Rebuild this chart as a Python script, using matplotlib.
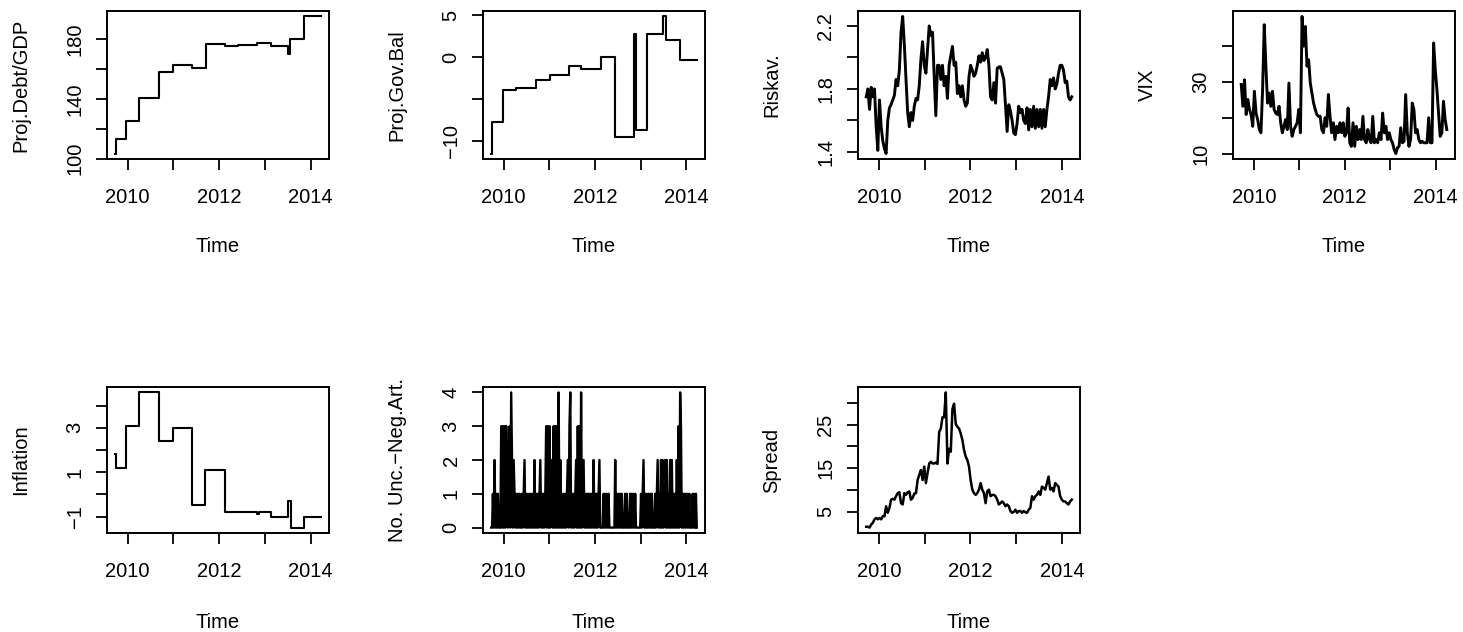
import numpy as np
import matplotlib.pyplot as plt

plt.rcParams['font.family'] = ['Liberation Sans', 'DejaVu Sans']

MINUS = '\u2212'

# step series: dates where the value changes, last date = end of series
DEBT_T = [2009.73, 2009.74, 2009.97, 2010.25, 2010.68, 2010.99, 2011.41, 2011.72,
          2012.13, 2012.41, 2012.83, 2013.13, 2013.50, 2013.54, 2013.85, 2014.22]
DEBT_V = [103.5, 113.0, 125.3, 140.4, 158.2, 163.1, 160.9, 177.1,
          175.3, 176.4, 177.3, 175.8, 170.4, 180.4, 195.3, 195.3]

GOVBAL_T = [2009.73, 2009.74, 2009.99, 2010.28, 2010.70, 2011.01, 2011.43, 2011.70, 2012.13,
            2012.43, 2012.85, 2012.90, 2013.14, 2013.50, 2013.56, 2013.87, 2014.23]
GOVBAL_V = [-11.45, -7.7, -3.95, -3.7, -2.75, -2.1, -1.0, -1.4, 0.0,
            -9.45, 2.75, -8.65, 2.75, 4.85, 2.1, -0.3, -0.3]

INFL_T = [2009.73, 2009.74, 2009.97, 2010.26, 2010.68, 2010.99, 2011.41, 2011.70,
          2012.13, 2012.83, 2012.88, 2013.13, 2013.50, 2013.56, 2013.85, 2014.22]
INFL_V = [1.8, 1.2, 3.1, 4.6, 2.4, 3.0, -0.5, 1.1,
          -0.8, -0.9, -0.8, -1.0, -0.3, -1.5, -1.0, -1.0]

# noisy series, regularly spaced between start and end
RISKAV_SPAN = (2009.725, 2014.217)
RISKAV = [1.75, 1.80, 1.67, 1.81, 1.75, 1.80, 1.56, 1.41, 1.73, 1.56,
          1.47, 1.42, 1.39, 1.60, 1.68, 1.70, 1.73, 1.76, 1.86, 1.82,
          1.92, 2.16, 2.26, 2.08, 1.86, 1.65, 1.56, 1.65, 1.60, 1.69,
          1.74, 1.73, 1.82, 1.99, 2.10, 1.95, 1.90, 2.05, 2.20, 2.14,
          2.16, 1.88, 1.63, 1.95, 1.95, 1.86, 1.95, 1.82, 1.88, 1.74,
          1.95, 2.01, 2.07, 1.95, 1.97, 1.77, 1.82, 1.75, 1.82, 1.73,
          1.69, 1.71, 1.88, 1.95, 1.92, 1.88, 1.90, 1.95, 2.01, 1.97,
          2.03, 1.98, 2.00, 2.05, 1.95, 1.75, 1.73, 1.84, 1.71, 1.93,
          1.94, 1.94, 1.90, 1.86, 1.70, 1.53, 1.70, 1.66, 1.60, 1.52,
          1.51, 1.58, 1.69, 1.65, 1.67, 1.60, 1.58, 1.68, 1.54, 1.67,
          1.56, 1.69, 1.55, 1.67, 1.56, 1.67, 1.55, 1.67, 1.56, 1.67,
          1.75, 1.86, 1.82, 1.87, 1.80, 1.83, 1.90, 1.95, 1.95, 1.92,
          1.84, 1.85, 1.75, 1.73, 1.75]

VIX_SPAN = (2009.723, 2014.248)
VIX = [29.3, 23.2, 30.6, 20.9, 25.1, 22.3, 20.9, 17.6, 27.4, 21.3,
       19.5, 16.7, 15.8, 27.9, 46.0, 34.4, 24.1, 26.9, 23.2, 27.4,
       22.3, 21.3, 20.9, 23.2, 18.6, 15.8, 17.6, 19.5, 16.7, 29.7,
       17.6, 14.8, 16.7, 17.6, 18.6, 22.3, 15.8, 48.3, 40.0, 45.5,
       34.4, 36.2, 29.7, 26.9, 24.1, 22.3, 20.9, 20.4, 20.4, 16.7,
       15.8, 20.0, 17.6, 26.5, 20.4, 15.8, 18.6, 13.9, 17.6, 15.8,
       18.6, 15.8, 18.6, 14.8, 15.8, 22.7, 13.0, 12.0, 18.6, 12.0,
       17.6, 13.9, 16.7, 13.9, 20.4, 13.9, 13.0, 16.7, 13.9, 13.0,
       20.4, 13.0, 13.9, 13.0, 15.8, 13.9, 21.3, 15.8, 17.6, 13.9,
       15.8, 13.9, 13.0, 11.1, 10.0, 11.6, 12.0, 17.2, 13.0, 13.4,
       26.5, 15.8, 12.0, 13.9, 24.1, 22.3, 15.8, 16.7, 13.9, 13.0,
       13.4, 13.0, 13.0, 13.0, 20.0, 13.0, 13.0, 40.9, 33.4, 27.9,
       21.3, 14.8, 15.8, 24.6, 19.5, 16.7]

SPREAD_SPAN = (2009.725, 2014.217)
SPREAD = [1.6, 1.6, 1.4, 2.1, 2.5, 3.3, 3.6, 3.3, 3.6, 3.3,
          4.0, 4.0, 6.3, 4.8, 5.9, 7.8, 8.0, 7.8, 8.6, 9.3,
          9.5, 7.0, 6.7, 9.3, 8.9, 9.5, 9.7, 7.8, 8.2, 9.2,
          9.3, 12.3, 13.5, 14.6, 12.3, 15.4, 11.6, 13.9, 16.1, 16.5,
          16.1, 16.1, 16.3, 16.0, 23.3, 24.1, 26.7, 26.7, 32.4, 16.1,
          19.5, 18.8, 28.6, 29.8, 25.2, 24.5, 24.1, 23.0, 21.5, 19.2,
          17.7, 16.9, 15.4, 12.3, 10.1, 9.3, 8.9, 9.3, 10.1, 11.6,
          10.1, 9.3, 7.0, 9.7, 10.1, 8.6, 8.9, 8.9, 8.6, 7.8,
          6.7, 7.0, 7.4, 7.0, 6.3, 6.7, 6.3, 5.2, 4.8, 5.0,
          5.5, 4.8, 5.2, 5.2, 4.8, 5.2, 4.9, 4.8, 5.5, 5.9,
          8.6, 7.8, 8.6, 8.9, 9.7, 8.9, 10.8, 10.5, 10.1, 11.6,
          13.1, 10.1, 10.5, 9.7, 11.6, 11.2, 10.8, 8.6, 7.8, 7.4,
          7.4, 7.0, 6.7, 7.4, 7.8]

# counts of negative articles, one digit per observation
NEGART_SPAN = (2009.73, 2014.23)
NEGART = ("00" "102" "01010" "00" "3030303" "20" "13" "04" "202" "1010101" "00"
          "101" "2" "01010101010" "2" "010101" "2" "010101" "303030" "1" "2" "0"
          "30303" "0" "4" "0" "2" "01010101" "2" "0" "3" "4" "0" "101012" "0"
          "3030" "4" "0" "120101010101020101012" "0000" "10101010" "000000" "2" "0"
          "10101010" "00" "1010" "00" "10101" "0" "10" "00000" "101" "2" "0"
          "101010101" "000" "1012010" "20201202010202010102030" "4" "3" "0"
          "1010101010" "00" "101010")

X_TICKS = [2010, 2011, 2012, 2013, 2014]
X_LABELS = ['2010', '', '2012', '', '2014']

W, H = 1463, 632
COL_LEFT = [107, 483, 858, 1233]
AX_W = 222
ROWS = [(11, 159), (387, 533)]


def regular(span, values):
    return np.linspace(span[0], span[1], len(values)), np.asarray(values, dtype=float)


def make_axes(fig, col, row):
    top, bottom = ROWS[row]
    return fig.add_axes([COL_LEFT[col] / W, 1 - bottom / H, AX_W / W, (bottom - top) / H])


def style(ax, ylabel, yticks, ylabels, row):
    ax.margins(x=0.04, y=0.04)
    ax.set_xticks(X_TICKS)
    ax.set_xticklabels(X_LABELS)
    ax.set_yticks(yticks)
    ax.set_yticklabels([s.replace('-', MINUS) for s in ylabels])
    for lab in ax.get_yticklabels():
        lab.set_rotation(90)
        lab.set_va('center')
        lab.set_ha('right')
    ax.tick_params(axis='both', direction='out', length=7.7, width=1.3,
                   labelsize=14.5, color='black')
    ax.tick_params(axis='x', pad=13.5)
    ax.tick_params(axis='y', pad=8.5)
    for sp in ax.spines.values():
        sp.set_linewidth(1.4)
    ax.set_ylabel(ylabel, fontsize=14.5)
    ax.yaxis.set_label_coords(-0.387, 0.5)
    ax.yaxis.label.set_va('center')
    ax.set_xlabel('Time', fontsize=14.5)
    ax.xaxis.set_label_coords(0.5, -0.59 if row == 0 else -0.61)
    ax.xaxis.label.set_va('center')


def main():
    fig = plt.figure(figsize=(W / 100, H / 100), dpi=100)
    lw = 1.5

    ax = make_axes(fig, 0, 0)
    ax.step(DEBT_T, DEBT_V, where='post', color='black', lw=lw)
    style(ax, 'Proj.Debt/GDP', [100, 120, 140, 160, 180], ['100', '', '140', '', '180'], 0)

    ax = make_axes(fig, 1, 0)
    ax.step(GOVBAL_T, GOVBAL_V, where='post', color='black', lw=lw)
    style(ax, 'Proj.Gov.Bal', [-10, -5, 0, 5], ['-10', '', '0', '5'], 0)

    ax = make_axes(fig, 2, 0)
    t, v = regular(RISKAV_SPAN, RISKAV)
    ax.plot(t, v, color='black', lw=2.1)
    style(ax, 'Riskav.', [1.4, 1.6, 1.8, 2.0, 2.2], ['1.4', '', '1.8', '', '2.2'], 0)

    ax = make_axes(fig, 3, 0)
    t, v = regular(VIX_SPAN, VIX)
    ax.plot(t, v, color='black', lw=2.1)
    style(ax, 'VIX', [10, 20, 30, 40], ['10', '', '30', ''], 0)

    ax = make_axes(fig, 0, 1)
    ax.step(INFL_T, INFL_V, where='post', color='black', lw=lw)
    style(ax, 'Inflation', [-1, 0, 1, 2, 3, 4], ['-1', '', '1', '', '3', ''], 1)

    ax = make_axes(fig, 1, 1)
    t, v = regular(NEGART_SPAN, [int(c) for c in NEGART])
    ax.plot(t, v, color='black', lw=1.7)
    style(ax, 'No. Unc.' + MINUS + 'Neg.Art.', [0, 1, 2, 3, 4], ['0', '1', '2', '3', '4'], 1)

    ax = make_axes(fig, 2, 1)
    t, v = regular(SPREAD_SPAN, SPREAD)
    ax.plot(t, v, color='black', lw=1.8)
    style(ax, 'Spread', [5, 10, 15, 20, 25, 30], ['5', '', '15', '', '25', ''], 1)

    fig.savefig('out.png', dpi=100)


if __name__ == "__main__":
    main()
